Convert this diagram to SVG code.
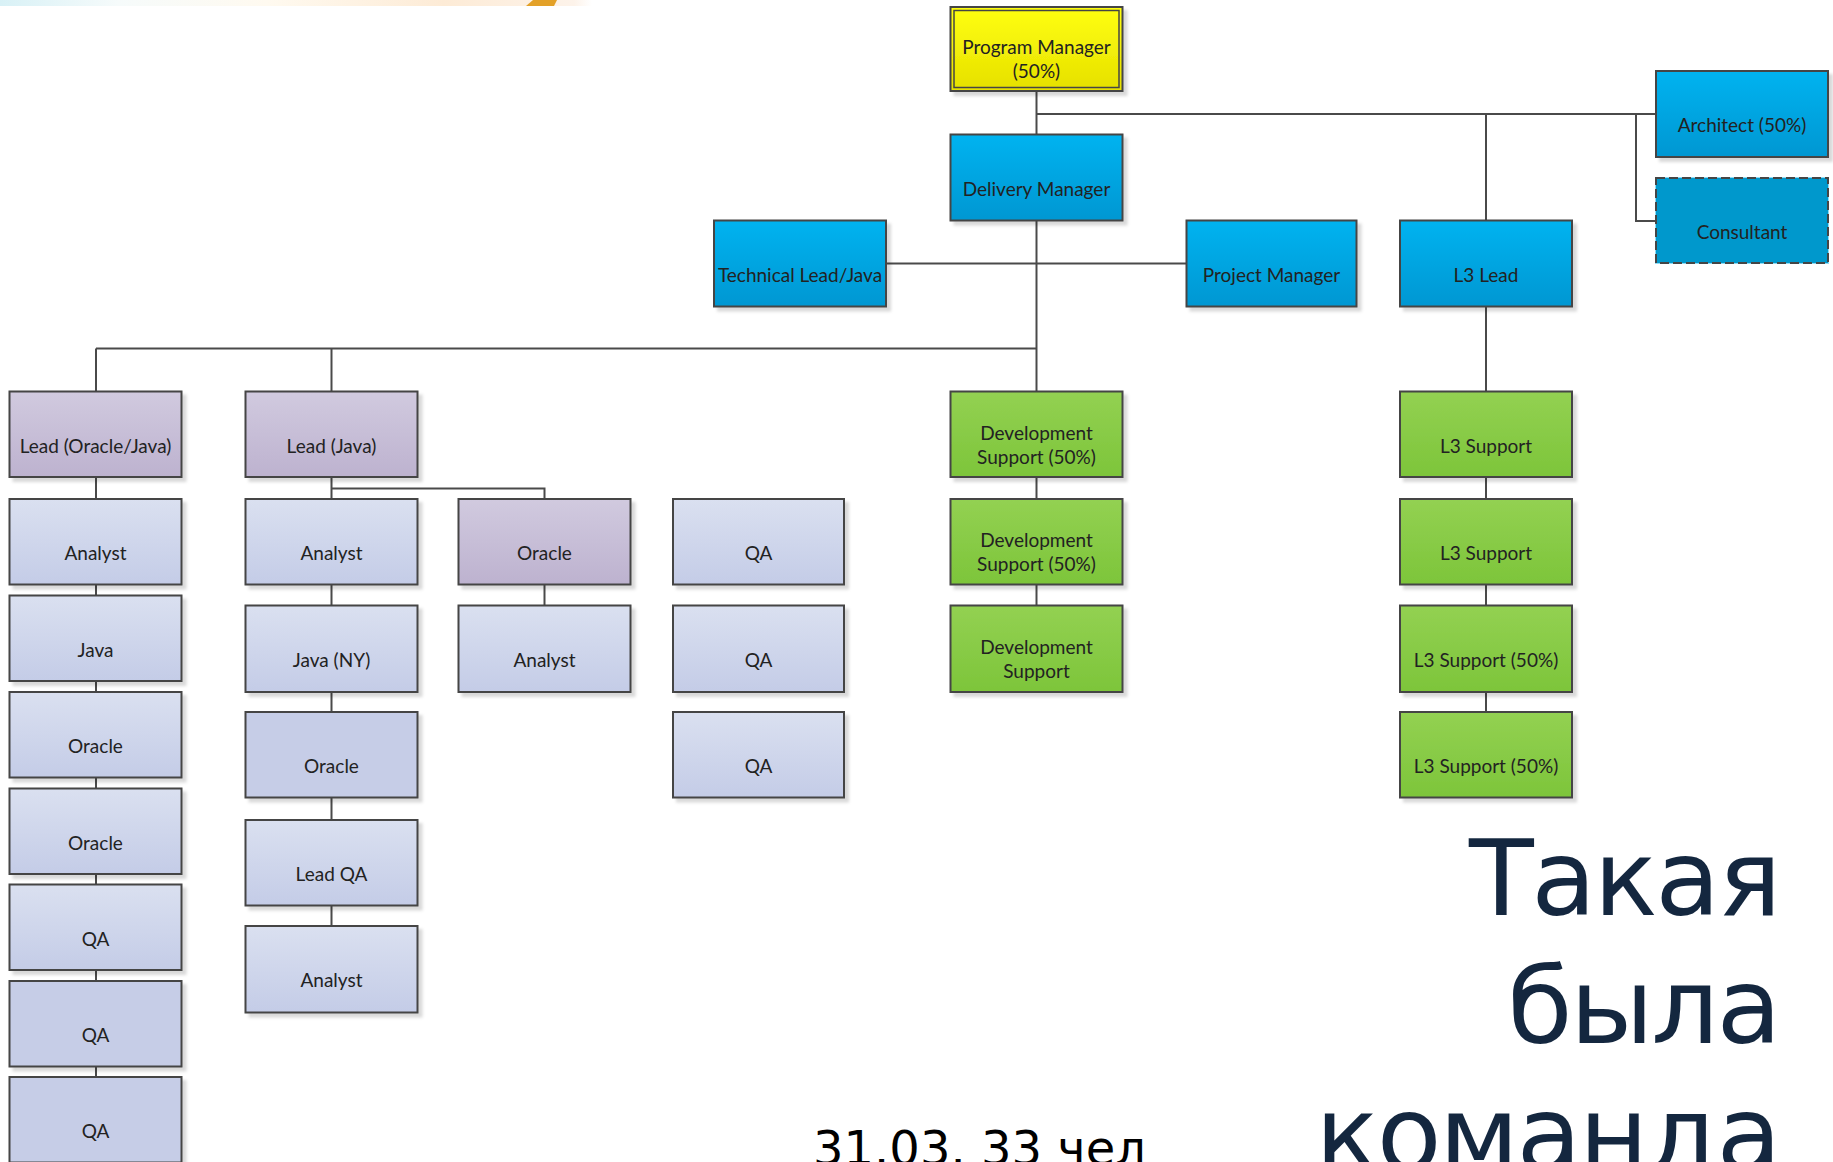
<svg xmlns="http://www.w3.org/2000/svg" width="1833" height="1162" viewBox="0 0 1833 1162">
<defs>
  <linearGradient id="gBlue" x1="0" y1="0" x2="0" y2="1"><stop offset="0" stop-color="#00b3f0"/><stop offset="1" stop-color="#0097d2"/></linearGradient>
  <linearGradient id="gYellow" x1="0" y1="0" x2="0" y2="1"><stop offset="0" stop-color="#ffff10"/><stop offset="1" stop-color="#e6e000"/></linearGradient>
  <linearGradient id="gLav" x1="0" y1="0" x2="0" y2="1"><stop offset="0" stop-color="#d1cadf"/><stop offset="1" stop-color="#bdb2cf"/></linearGradient>
  <linearGradient id="gGray" x1="0" y1="0" x2="0" y2="1"><stop offset="0" stop-color="#dae0f0"/><stop offset="1" stop-color="#c4cce7"/></linearGradient>
  <linearGradient id="gGreen" x1="0" y1="0" x2="0" y2="1"><stop offset="0" stop-color="#93d152"/><stop offset="1" stop-color="#7dc53a"/></linearGradient>
  <linearGradient id="gStrip" x1="0" y1="0" x2="1" y2="0">
    <stop offset="0" stop-color="#d8f1f6"/><stop offset="0.2" stop-color="#f6fbfb"/><stop offset="0.45" stop-color="#fffaf0"/><stop offset="0.75" stop-color="#fdebd6"/><stop offset="0.97" stop-color="#fdf3ea"/><stop offset="1" stop-color="#ffffff"/>
  </linearGradient>
  <filter id="sh" x="-10%" y="-10%" width="130%" height="130%">
    <feDropShadow dx="4" dy="4" stdDeviation="1.5" flood-color="#000" flood-opacity="0.15"/>
  </filter>
  <style>
    .box { stroke: #454545; stroke-width: 2; filter: url(#sh); }
    .blue { fill: url(#gBlue); }
    .yellow { fill: url(#gYellow); }
    .lav { fill: url(#gLav); }
    .gray { fill: url(#gGray); }
    .flat { fill: #c6cde7; }
    .green { fill: url(#gGreen); }
    .cons { fill: #0098cc; stroke: #454545; stroke-width: 2; stroke-dasharray: 9 4; }
    .cons-under { fill: none; stroke: #8fdcf5; stroke-width: 2; }
    .lbl { font-family: Lato, "Liberation Sans", sans-serif; font-size: 19px; fill: #222222; text-anchor: middle; }
    .conn { fill: none; stroke: #4a4a4a; stroke-width: 2; }
    .title { font-family: "DejaVu Sans", Verdana, sans-serif; font-size: 106px; letter-spacing: -2.5px; fill: #14273f; text-anchor: end; }
    .sub { font-family: "DejaVu Sans", Verdana, sans-serif; font-size: 48px; fill: #000; }
  </style>
</defs>
<rect x="0" y="0" width="1833" height="1162" fill="#ffffff"/>
<rect x="0" y="0" width="592" height="6" fill="url(#gStrip)"/>
<polygon points="533,0 557,0 554,6 526,6" fill="#e3a128"/>

<g id="connectors">
  <path class="conn" d="M1036.5 91 V134.5"/>
  <path class="conn" d="M1036.5 114 H1656"/>
  <path class="conn" d="M1486 114 V220.5"/>
  <path class="conn" d="M1636 114 V221 H1656"/>
  <path class="conn" d="M1036.5 220.5 V391.5"/>
  <path class="conn" d="M886 263.5 H1186.5"/>
  <path class="conn" d="M96 348.5 H1036.5"/>
  <path class="conn" d="M96 348.5 V391.5"/>
  <path class="conn" d="M331.5 348.5 V391.5"/>
  <path class="conn" d="M96 477 V1077"/>
  <path class="conn" d="M331.5 477 V926"/>
  <path class="conn" d="M331.5 488.5 H544.5 V499"/>
  <path class="conn" d="M544.5 585 V605.5"/>
  <path class="conn" d="M1036.5 477 V605.5"/>
  <path class="conn" d="M1486 306.5 V712"/>
</g>

<g id="program-manager">
  <rect class="box yellow" x="950.5" y="7" width="172" height="84"/>
  <rect x="954" y="10.5" width="165" height="77" fill="none" stroke="#454545" stroke-width="1.5"/>
  <text class="lbl" x="1036.5" y="54">Program Manager</text>
  <text class="lbl" x="1036.5" y="78">(50%)</text>
</g>
<g id="delivery-manager"><rect class="box blue" x="950.5" y="134.5" width="172" height="86"/><text class="lbl" x="1036.5" y="196">Delivery Manager</text></g>
<g id="technical-lead"><rect class="box blue" x="714" y="220.5" width="172" height="86"/><text class="lbl" x="800" y="282">Technical Lead/Java</text></g>
<g id="project-manager"><rect class="box blue" x="1186.5" y="220.5" width="170" height="86"/><text class="lbl" x="1271.5" y="282">Project Manager</text></g>
<g id="l3-lead"><rect class="box blue" x="1400" y="220.5" width="172" height="86"/><text class="lbl" x="1486" y="282">L3 Lead</text></g>
<g id="architect"><rect class="box blue" x="1656" y="71" width="172" height="86"/><text class="lbl" x="1742" y="132">Architect (50%)</text></g>
<g id="consultant"><rect class="cons-under" x="1656" y="178" width="172" height="85"/><rect class="cons" x="1656" y="178" width="172" height="85"/><text class="lbl" x="1742" y="239">Consultant</text></g>

<g id="lead-oracle-java"><rect class="box lav" x="9.5" y="391.5" width="172" height="85.5"/><text class="lbl" x="95.5" y="453">Lead (Oracle/Java)</text></g>
<g id="c1-analyst"><rect class="box gray" x="9.5" y="499" width="172" height="85.5"/><text class="lbl" x="95.5" y="560">Analyst</text></g>
<g id="c1-java"><rect class="box gray" x="9.5" y="595.5" width="172" height="85.5"/><text class="lbl" x="95.5" y="656.5">Java</text></g>
<g id="c1-oracle-1"><rect class="box gray" x="9.5" y="692" width="172" height="85.5"/><text class="lbl" x="95.5" y="753">Oracle</text></g>
<g id="c1-oracle-2"><rect class="box gray" x="9.5" y="788.5" width="172" height="85.5"/><text class="lbl" x="95.5" y="849.5">Oracle</text></g>
<g id="c1-qa-1"><rect class="box gray" x="9.5" y="884.5" width="172" height="85.5"/><text class="lbl" x="95.5" y="945.5">QA</text></g>
<g id="c1-qa-2"><rect class="box flat" x="9.5" y="981" width="172" height="85.5"/><text class="lbl" x="95.5" y="1042">QA</text></g>
<g id="c1-qa-3"><rect class="box flat" x="9.5" y="1077" width="172" height="85.5"/><text class="lbl" x="95.5" y="1138">QA</text></g>

<g id="lead-java"><rect class="box lav" x="245.5" y="391.5" width="172" height="85.5"/><text class="lbl" x="331.5" y="453">Lead (Java)</text></g>
<g id="c2-analyst-1"><rect class="box gray" x="245.5" y="499" width="172" height="85.5"/><text class="lbl" x="331.5" y="560">Analyst</text></g>
<g id="c2-java-ny"><rect class="box gray" x="245.5" y="605.5" width="172" height="86.5"/><text class="lbl" x="331.5" y="667">Java (NY)</text></g>
<g id="c2-oracle"><rect class="box flat" x="245.5" y="712" width="172" height="85.5"/><text class="lbl" x="331.5" y="773">Oracle</text></g>
<g id="c2-lead-qa"><rect class="box gray" x="245.5" y="820" width="172" height="85.5"/><text class="lbl" x="331.5" y="881">Lead QA</text></g>
<g id="c2-analyst-2"><rect class="box gray" x="245.5" y="926" width="172" height="86.5"/><text class="lbl" x="331.5" y="987">Analyst</text></g>

<g id="oracle-lead"><rect class="box lav" x="458.5" y="499" width="172" height="85.5"/><text class="lbl" x="544.5" y="560">Oracle</text></g>
<g id="oracle-analyst"><rect class="box gray" x="458.5" y="605.5" width="172" height="86.5"/><text class="lbl" x="544.5" y="667">Analyst</text></g>

<g id="qa-1"><rect class="box gray" x="673" y="499" width="171" height="85.5"/><text class="lbl" x="758.5" y="560">QA</text></g>
<g id="qa-2"><rect class="box gray" x="673" y="605.5" width="171" height="86.5"/><text class="lbl" x="758.5" y="667">QA</text></g>
<g id="qa-3"><rect class="box gray" x="673" y="712" width="171" height="85.5"/><text class="lbl" x="758.5" y="773">QA</text></g>

<g id="dev-support-1"><rect class="box green" x="950.5" y="391.5" width="172" height="85.5"/><text class="lbl" x="1036.5" y="440">Development</text><text class="lbl" x="1036.5" y="464">Support (50%)</text></g>
<g id="dev-support-2"><rect class="box green" x="950.5" y="499" width="172" height="85.5"/><text class="lbl" x="1036.5" y="547">Development</text><text class="lbl" x="1036.5" y="571">Support (50%)</text></g>
<g id="dev-support-3"><rect class="box green" x="950.5" y="605.5" width="172" height="86.5"/><text class="lbl" x="1036.5" y="654">Development</text><text class="lbl" x="1036.5" y="678">Support</text></g>

<g id="l3-support-1"><rect class="box green" x="1400" y="391.5" width="172" height="85.5"/><text class="lbl" x="1486" y="453">L3 Support</text></g>
<g id="l3-support-2"><rect class="box green" x="1400" y="499" width="172" height="85.5"/><text class="lbl" x="1486" y="560">L3 Support</text></g>
<g id="l3-support-3"><rect class="box green" x="1400" y="605.5" width="172" height="86.5"/><text class="lbl" x="1486" y="667">L3 Support (50%)</text></g>
<g id="l3-support-4"><rect class="box green" x="1400" y="712" width="172" height="85.5"/><text class="lbl" x="1486" y="773">L3 Support (50%)</text></g>

<g id="title">
  <text class="title" x="1779" y="915">Такая</text>
  <text class="title" x="1779" y="1043">была</text>
  <text class="title" x="1779" y="1171">команда</text>
</g>
<text class="sub" x="813" y="1165">31.03. 33 чел</text>
</svg>
